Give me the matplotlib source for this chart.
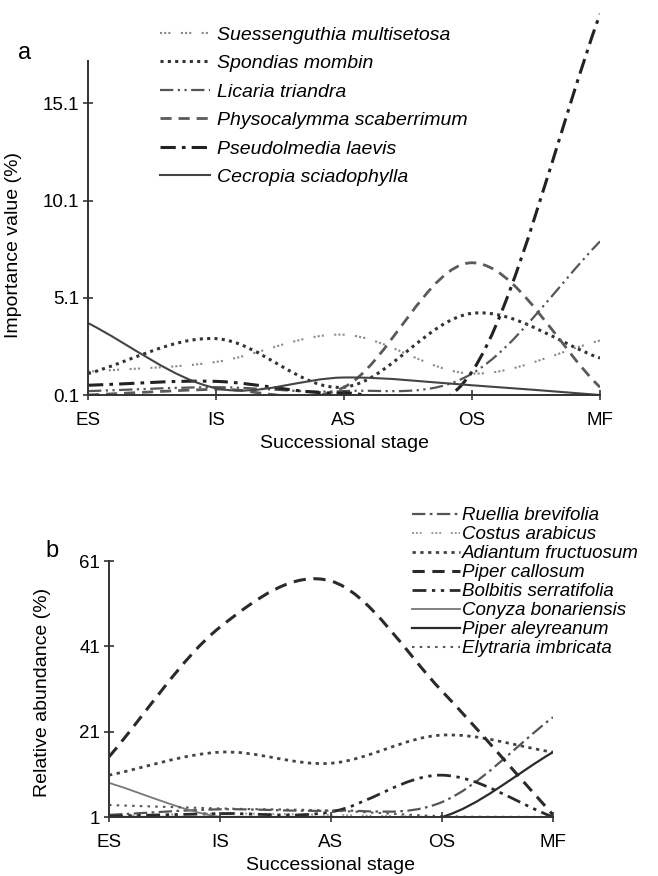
import matplotlib
matplotlib.use("Agg")
import matplotlib.pyplot as plt
from matplotlib.path import Path
from matplotlib.patches import PathPatch
from matplotlib.lines import Line2D

plt.rcParams['font.family'] = ['Liberation Sans', 'DejaVu Sans']

# ---------------- data ----------------
stages = ["ES", "IS", "AS", "OS", "MF"]

# panel a: importance value (%)
suessenguthia = [1.3, 1.8, 3.2, 1.2, 2.9]
spondias = [1.2, 3.0, 0.5, 4.3, 2.0]
licaria = [0.3, 0.5, 0.3, 1.2, 8.0]
physocalymma = [0.1, 0.4, 0.5, 6.9, 0.5]
pseudolmedia = [0.6, 0.8, 0.2, 1.3, 19.7]
cecropia = [3.8, 0.45, 1.0, 0.6, 0.1]
yticks_a = [0.1, 5.1, 10.1, 15.1]

# panel b: relative abundance (%)
ruellia = [1.5, 2.8, 2.5, 4.5, 24.4]
costus = [1.2, 1.8, 1.5, 1.0, 1.0]
adiantum = [10.8, 16.2, 13.6, 20.2, 16.2]
piper_callosum = [15.1, 45.5, 56.3, 30.5, 1.5]
bolbitis = [1.2, 1.8, 2.2, 10.8, 1.0]
conyza = [9.0, 1.0, 1.0, 1.0, 1.0]
piper_aleyreanum = [1.0, 1.0, 1.0, 1.0, 16.2]
elytraria = [3.8, 3.0, 2.5, 1.2, 1.0]
yticks_b = [1, 21, 41, 61]

x = list(range(len(stages)))


def smooth_path(xs, ys):
    n = len(xs)
    m = []
    for i in range(n):
        if i == 0:
            m.append((ys[1] - ys[0]) / (xs[1] - xs[0]))
        elif i == n - 1:
            m.append((ys[-1] - ys[-2]) / (xs[-1] - xs[-2]))
        else:
            m.append((ys[i + 1] - ys[i - 1]) / (xs[i + 1] - xs[i - 1]))
    verts = [(xs[0], ys[0])]
    codes = [Path.MOVETO]
    for i in range(n - 1):
        h = xs[i + 1] - xs[i]
        verts += [(xs[i] + h / 3, ys[i] + m[i] * h / 3),
                  (xs[i + 1] - h / 3, ys[i + 1] - m[i + 1] * h / 3),
                  (xs[i + 1], ys[i + 1])]
        codes += [Path.CURVE4] * 3
    return Path(verts, codes)


def draw(ax, ys, style):
    p = PathPatch(smooth_path(x, ys), fill=False, transform=ax.transData,
                  edgecolor=style['color'], linewidth=style['lw'],
                  linestyle=style['ls'])
    ax.add_patch(p)


def style_axes(ax, ylim, yticks, spine_top):
    ax.set_xlim(0, 4)
    ax.set_ylim(*ylim)
    ax.set_xticks(x)
    ax.set_xticklabels(stages)
    ax.set_yticks(yticks)
    ax.set_yticklabels([("%g" % v) for v in yticks])
    for s in ['top', 'right']:
        ax.spines[s].set_visible(False)
    for s in ['left', 'bottom']:
        ax.spines[s].set_color('#333333')
        ax.spines[s].set_linewidth(1.4)
    ax.spines['left'].set_bounds(ylim[0], spine_top)
    ax.tick_params(direction='inout', length=7, width=1.2, color='#333333',
                   labelsize=13.5)
    ax.tick_params(axis='x', pad=9)
    ax.tick_params(axis='y', pad=3)
    ax.set_xlabel("Successional stage", fontsize=14, labelpad=4)


fig = plt.figure(figsize=(6.58, 8.76), dpi=100)

# ---------------- panel a ----------------
axa = fig.add_axes([88 / 658, 1 - 395 / 876, 512 / 658, 385 / 876])
styles_a = [
    ("Suessenguthia multisetosa", suessenguthia, dict(color='#8a8a8a', lw=1.5, ls=(0, (1, 1, 1, 1, 1, 5)))),
    ("Spondias mombin", spondias, dict(color='#333333', lw=2.2, ls=(0, (1, 1.4)))),
    ("Licaria triandra", licaria, dict(color='#555555', lw=1.6, ls=(0, (6, 2, 1, 2, 1, 2)))),
    ("Physocalymma scaberrimum", physocalymma, dict(color='#5a5a5a', lw=2.0, ls=(0, (4, 2.5)))),
    ("Pseudolmedia laevis", pseudolmedia, dict(color='#222222', lw=2.2, ls=(0, (5, 2, 1.2, 2)))),
    ("Cecropia sciadophylla", cecropia, dict(color='#444444', lw=1.5, ls='-')),
]
for name, ys, st in styles_a:
    draw(axa, ys, st)
style_axes(axa, (0.1, 19.9), yticks_a, 17.3)
axa.set_ylabel("Importance value (%)", fontsize=14)
axa.yaxis.set_label_coords(-0.129, 0.389)
handles_a = [Line2D([], [], color=st['color'], lw=st['lw'], ls=st['ls']) for _, _, st in styles_a]
fig.legend(handles_a, [n for n, _, _ in styles_a], loc='upper left',
           bbox_to_anchor=(160 / 658, 1 - 26 / 876), bbox_transform=fig.transFigure,
           frameon=False, borderpad=0, borderaxespad=0, handlelength=2.55,
           handletextpad=0.4, labelspacing=0.56,
           prop=dict(size=14, style='italic'))
fig.text(25 / 658, 1 - 53 / 876, "a", fontsize=17, ha='center', va='center')

# ---------------- panel b ----------------
axb = fig.add_axes([109 / 658, 1 - 817 / 876, 444 / 658, 256 / 876])
styles_b = [
    ("Ruellia brevifolia", ruellia, dict(color='#555555', lw=1.6, ls=(0, (6, 2, 1.2, 2)))),
    ("Costus arabicus", costus, dict(color='#999999', lw=1.4, ls=(0, (1, 1, 1, 1, 1, 5)))),
    ("Adiantum fructuosum", adiantum, dict(color='#444444', lw=2.0, ls=(0, (1.2, 1.6)))),
    ("Piper callosum", piper_callosum, dict(color='#2a2a2a', lw=2.2, ls=(0, (4, 2.5)))),
    ("Bolbitis serratifolia", bolbitis, dict(color='#2a2a2a', lw=2.0, ls=(0, (5, 2, 1.2, 2, 1.2, 2)))),
    ("Conyza bonariensis", conyza, dict(color='#777777', lw=1.3, ls='-')),
    ("Piper aleyreanum", piper_aleyreanum, dict(color='#2a2a2a', lw=1.6, ls='-')),
    ("Elytraria imbricata", elytraria, dict(color='#555555', lw=1.5, ls=(0, (1.2, 2.5)))),
]
for name, ys, st in styles_b:
    draw(axb, ys, st)
style_axes(axb, (1, 61), yticks_b, 61)
axb.set_ylabel("Relative abundance (%)", fontsize=14)
axb.yaxis.set_label_coords(-0.13, 0.488)
handles_b = [Line2D([], [], color=st['color'], lw=st['lw'], ls=st['ls']) for _, _, st in styles_b]
fig.legend(handles_b, [n for n, _, _ in styles_b], loc='upper left',
           bbox_to_anchor=(412 / 658, 1 - 507 / 876), bbox_transform=fig.transFigure,
           frameon=False, borderpad=0, borderaxespad=0, handlelength=2.55,
           handletextpad=0.1, labelspacing=0.1,
           prop=dict(size=13.5, style='italic'))
fig.text(52 / 658, 1 - 551 / 876, "b", fontsize=17, ha='center', va='center')

fig.savefig("out.png", dpi=100)
